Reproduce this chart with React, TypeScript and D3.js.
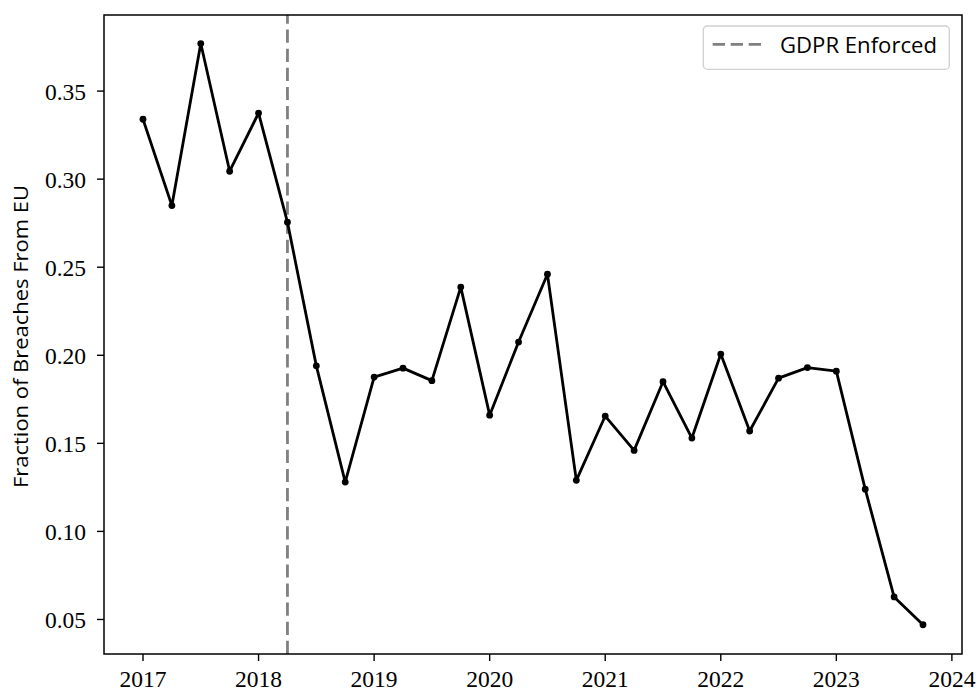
import React from "react";
import * as d3 from "d3";

const quarters = [
  2017.0, 2017.25, 2017.5, 2017.75,
  2018.0, 2018.25, 2018.5, 2018.75,
  2019.0, 2019.25, 2019.5, 2019.75,
  2020.0, 2020.25, 2020.5, 2020.75,
  2021.0, 2021.25, 2021.5, 2021.75,
  2022.0, 2022.25, 2022.5, 2022.75,
  2023.0, 2023.25, 2023.5, 2023.75,
];
const euFraction = [
  0.334, 0.285, 0.377, 0.3045,
  0.3375, 0.2756, 0.194, 0.128,
  0.1876, 0.1927, 0.1856, 0.2387,
  0.166, 0.2075, 0.246, 0.129,
  0.1655, 0.146, 0.185, 0.153,
  0.2007, 0.157, 0.187, 0.193,
  0.191, 0.124, 0.0628, 0.047,
];
const xTicks = [2017, 2018, 2019, 2020, 2021, 2022, 2023, 2024];
const yTicks = [0.05, 0.1, 0.15, 0.2, 0.25, 0.3, 0.35];
const gdprDate = 2018.25;
const yLabel = "Fraction of Breaches From EU";
const legendLabel = "GDPR Enforced";

const W = 979, H = 694;
const L = 104, R = 962, T = 15, B = 654;

export default function App() {
  const x = d3.scaleLinear().domain([2016.6625, 2024.0875]).range([L, R]);
  const y = d3.scaleLinear().domain([0.0304, 0.3932]).range([B, T]);
  const pts = quarters.map((q, i) => [q, euFraction[i]] as [number, number]);
  const line = d3.line<[number, number]>().x(d => x(d[0])).y(d => y(d[1]));
  const serif = "'Liberation Serif', 'DejaVu Serif', serif";
  const sans = "'Open Sans', 'DejaVu Sans', sans-serif";
  return (
    <svg width={W} height={H} style={{ position: "absolute", left: 0, top: 0, background: "#fff" }}>
      <rect x={0} y={0} width={W} height={H} fill="#fff" />
      <line x1={x(gdprDate)} x2={x(gdprDate)} y1={B} y2={T} stroke="#808080" strokeWidth={2.8} strokeDasharray="13.2,5.9" />
      <path d={line(pts) || ""} fill="none" stroke="#000" strokeWidth={2.8} strokeLinejoin="round" />
      {pts.map((p, i) => (
        <circle key={i} cx={x(p[0])} cy={y(p[1])} r={3.4} fill="#000" />
      ))}
      <rect x={L} y={T} width={R - L} height={B - T} fill="none" stroke="#000" strokeWidth={1.5} />
      {xTicks.map(t => (
        <g key={t}>
          <line x1={x(t)} x2={x(t)} y1={B} y2={B + 7} stroke="#000" strokeWidth={1.4} />
          <text x={x(t)} y={B + 33} textAnchor="middle" fontFamily={serif} fontSize={23.5} fill="#000">{t}</text>
        </g>
      ))}
      {yTicks.map(t => (
        <g key={t}>
          <line x1={L - 7} x2={L} y1={y(t)} y2={y(t)} stroke="#000" strokeWidth={1.4} />
          <text x={86} y={y(t) + 9} textAnchor="end" fontFamily={serif} fontSize={23.5} fill="#000">{t.toFixed(2)}</text>
        </g>
      ))}
      <text transform={`translate(27.5,${(T + B) / 2 + 2}) rotate(-90)`} textAnchor="middle" fontFamily={sans} fontSize={20} fill="#000" textLength={303} lengthAdjust="spacingAndGlyphs">{yLabel}</text>
      <g>
        <rect x={703.3} y={26} width={246} height={43.3} rx={4} ry={4} fill="#fff" fillOpacity={0.8} stroke="#d0d0d0" strokeWidth={1.3} />
        <line x1={712.7} x2={761.7} y1={44.3} y2={44.3} stroke="#808080" strokeWidth={2.8} strokeDasharray="12.3,5.7" />
        <text x={780} y={53.3} fontFamily={sans} fontSize={22} fill="#000" textLength={157} lengthAdjust="spacingAndGlyphs">{legendLabel}</text>
      </g>
    </svg>
  );
}
